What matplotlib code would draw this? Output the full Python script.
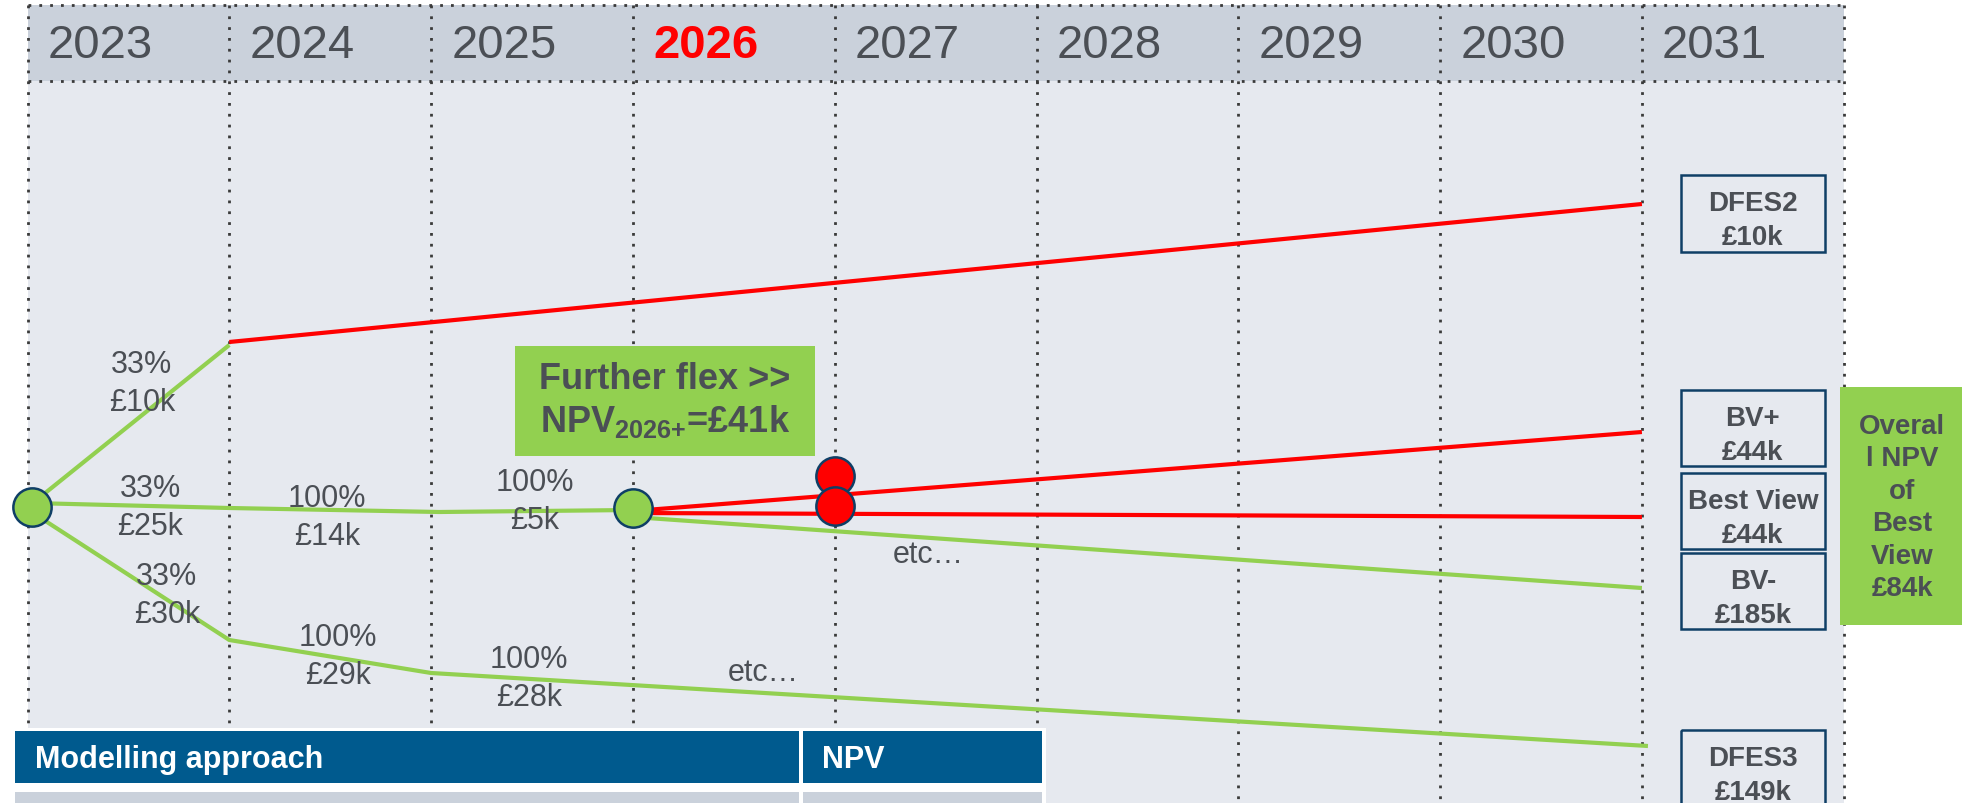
# Decision tree of NPV scenarios laid over a year timeline
import matplotlib.pyplot as plt
from matplotlib.patches import Rectangle

plt.rcParams['font.family'] = ['Liberation Sans', 'DejaVu Sans']
plt.rcParams['mathtext.fontset'] = 'custom'
plt.rcParams['mathtext.rm'] = 'Liberation Sans'
plt.rcParams['mathtext.bf'] = 'Liberation Sans:bold'

# ---- data -------------------------------------------------------------
years = [2023, 2024, 2025, 2026, 2027, 2028, 2029, 2030, 2031]
highlight_year = 2026

# branches: x in years, y = vertical lane on the slide (0 = top)
up_green_x, up_green_y = [2023.02, 2024.0], [505, 346]
up_red_x, up_red_y = [2024.0, 2031.0], [343, 205]
mid_green_x, mid_green_y = [2023.02, 2024.0, 2025.04, 2026.0], [504, 509, 513, 511]
low_green_x, low_green_y = [2023.02, 2024.0, 2025.0, 2031.03], [513, 641, 674, 747]
bvplus_x, bvplus_y = [2026.0, 2031.0], [512, 433]
bestview_x, bestview_y = [2026.0, 2031.0], [514, 518]
bvminus_x, bvminus_y = [2026.0, 2031.0], [518, 589]

green_nodes_x, green_nodes_y = [2023.02, 2026.0], [508, 509]
red_nodes_x, red_nodes_y = [2027.0, 2027.0], [477, 507]

branch_labels = ["33%\n£10k", "33%\n£25k", "33%\n£30k", "100%\n£14k",
                 "100%\n£5k", "100%\n£29k", "100%\n£28k", "etc…", "etc…"]
branch_label_x = [2023.567, 2023.607, 2023.691, 2024.484, 2025.515,
                  2024.539, 2025.485, 2027.462, 2026.645]
branch_label_y = [384, 508, 596, 518, 502, 657, 679, 555, 673]

outcome_names = ["DFES2", "BV+", "Best View", "BV-", "DFES3"]
outcome_values = ["£10k", "£44k", "£44k", "£185k", "£149k"]
outcome_top = [176, 391, 474, 554, 731]
outcome_bottom = [253, 467, 550, 630, 812]

overall_text = "Overal\nl NPV\nof\nBest\nView\n£84k"
flex_npv = "£41k"
table_headers = ["Modelling approach", "NPV"]

# ---- style ------------------------------------------------------------
RED = "#FF0000"
GREEN = "#92D050"
NAVY = "#0F3F66"
GREY_TXT = "#4B4F55"
PANEL = "#E6E9EF"
HEADER = "#CAD1DB"
DOTS = "#3A3A3A"

fig = plt.figure(figsize=(19.62, 8.04), dpi=100)
ax = fig.add_axes([0, 0, 1, 1])
ax.set_xlim(2023 - 27.5 / 201.8, 2023 + (1962 - 27.5) / 201.8)
ax.set_ylim(804, 0)
ax.axis('off')

x_end = years[-1] + 1

# background panel and header band
ax.add_patch(Rectangle((years[0], 82), x_end - years[0], 730, fc=PANEL, ec='none', zorder=0))
ax.add_patch(Rectangle((years[0], 6), x_end - years[0], 76, fc=HEADER, ec='none', zorder=0))

dot_style = (0, (1, 2.9))
ax.vlines(years + [x_end], 6, 804, colors=DOTS, linestyles=[dot_style], lw=2.0, zorder=1)
ax.hlines([6, 82], years[0], x_end, colors=DOTS, linestyles=[dot_style], lw=2.0, zorder=1)

for yr in years:
    hl = yr == highlight_year
    ax.text(yr + 0.1, 46, str(yr), ha='left', va='center', fontsize=34,
            color=RED if hl else GREY_TXT, fontweight='bold' if hl else 'normal', zorder=3)

# branches
for xs, ys in [(up_green_x, up_green_y), (mid_green_x, mid_green_y),
               (low_green_x, low_green_y), (bvminus_x, bvminus_y)]:
    ax.plot(xs, ys, color=GREEN, lw=3.0, solid_capstyle='butt', zorder=2)
for xs, ys in [(up_red_x, up_red_y), (bvplus_x, bvplus_y), (bestview_x, bestview_y)]:
    ax.plot(xs, ys, color=RED, lw=3.0, solid_capstyle='butt', zorder=2)

ax.scatter(green_nodes_x, green_nodes_y, s=760, c=GREEN, edgecolors=NAVY, linewidths=1.8, zorder=5)
ax.scatter(red_nodes_x, red_nodes_y, s=760, c=RED, edgecolors=NAVY, linewidths=1.8, zorder=5)

for t, x, y in zip(branch_labels, branch_label_x, branch_label_y):
    ax.text(x, y, t, ha='center', va='center', fontsize=22, color=GREY_TXT,
            linespacing=1.38, zorder=4)

# further flex box
ax.add_patch(Rectangle((2025.416, 347), 1.484, 110, fc=GREEN, ec='none', zorder=4))
ax.text(2026.158, 380, "Further flex >>", ha='center', va='center', fontsize=26,
        fontweight='bold', color=GREY_TXT, zorder=5)
ax.text(2026.158, 422, r"$\mathbf{NPV}_{\mathbf{2026{+}}}$" + "=" + flex_npv, ha='center',
        va='center', fontsize=26, fontweight='bold', color=GREY_TXT, zorder=5)

# outcome boxes
for name, val, top, bot in zip(outcome_names, outcome_values, outcome_top, outcome_bottom):
    ax.add_patch(Rectangle((2031.195, top), 0.71, bot - top, fc='none', ec=NAVY, lw=1.8, zorder=4))
    ax.text(2031.55, top + 28, name, ha='center', va='center', fontsize=20,
            fontweight='bold', color=GREY_TXT, zorder=5)
    ax.text(2031.55, top + 62, val, ha='center', va='center', fontsize=20,
            fontweight='bold', color=GREY_TXT, zorder=5)

# overall NPV box
ax.add_patch(Rectangle((2031.98, 388), 1.0, 238, fc=GREEN, ec='none', zorder=4))
ax.text(2032.29, 508, overall_text, ha='center', va='center', fontsize=20,
        fontweight='bold', color=GREY_TXT, linespacing=1.32, zorder=5)

# table at the bottom
ax.add_patch(Rectangle((2022.938, 729), 5.11, 80, fc='white', ec='none', zorder=6))
ax.add_patch(Rectangle((2022.938, 732), 3.885, 52, fc='#005A8E', ec='none', zorder=7))
ax.add_patch(Rectangle((2026.843, 732), 1.185, 52, fc='#005A8E', ec='none', zorder=7))
ax.add_patch(Rectangle((2022.938, 793), 3.885, 20, fc=HEADER, ec='none', zorder=7))
ax.add_patch(Rectangle((2026.843, 793), 1.185, 20, fc=HEADER, ec='none', zorder=7))
ax.text(2023.035, 760, table_headers[0], ha='left', va='center', fontsize=22,
        fontweight='bold', color='white', zorder=8)
ax.text(2026.935, 760, table_headers[1], ha='left', va='center', fontsize=22,
        fontweight='bold', color='white', zorder=8)

fig.savefig("out.png", dpi=100)
